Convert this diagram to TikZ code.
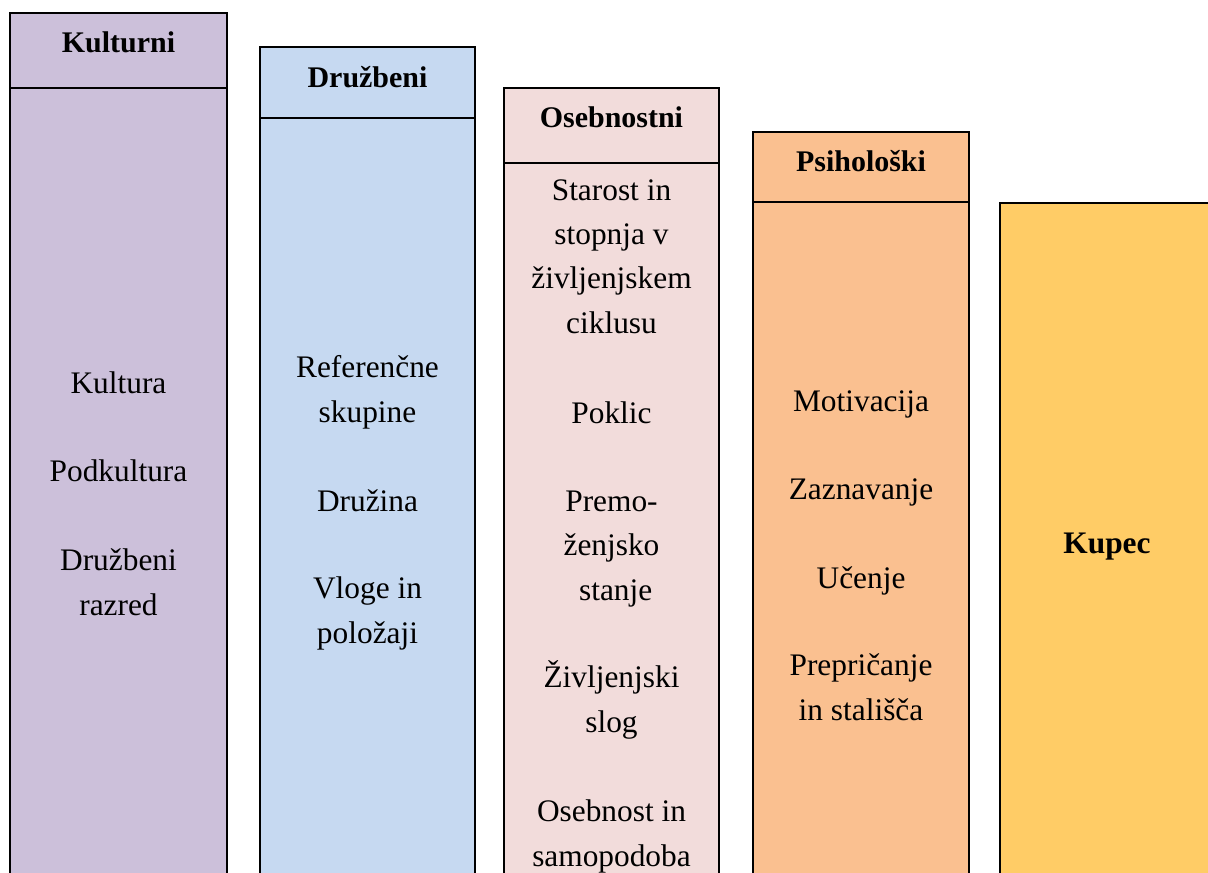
\documentclass[tikz,border=0pt]{standalone}
\usepackage{fontspec}
\setmainfont{Liberation Serif}
\definecolor{vijolicna}{HTML}{CCC0DA}
\definecolor{modra}{HTML}{C6D9F1}
\definecolor{roza}{HTML}{F2DCDB}
\definecolor{oranzna}{HTML}{FAC090}
\definecolor{rumena}{HTML}{FFCC66}
\tikzset{
	stolpec/.style={draw=black, line width=1.3pt},
	glava/.style={font=\fontsize{21.3}{26}\selectfont\bfseries, anchor=base, inner sep=0pt},
	besedilo/.style={font=\fontsize{22.3}{31.3}\selectfont, align=center, anchor=base, inner sep=0pt},
	kupec/.style={font=\fontsize{22.3}{26}\selectfont\bfseries, anchor=base, inner sep=0pt}
}
\begin{document}
\begin{tikzpicture}[x=0.025cm, y=-0.025cm]
		\useasboundingbox (0,0) rectangle (1208,873);
		\clip (0,0) rectangle (1208,873);
		
		\draw[stolpec][fill=vijolicna](10,13) rectangle (227,900);
		\draw[stolpec](10,88)--(227,88);
		\draw[stolpec][fill=modra](260,47) rectangle (475,900);
		\draw[stolpec](260,118)--(475,118);
		\draw[stolpec][fill=roza](504,88) rectangle (719,900);
		\draw[stolpec](504,163)--(719,163);
		\draw[stolpec][fill=oranzna](753,132) rectangle (969,900);
		\draw[stolpec](753,202)--(969,202);
		\draw[stolpec][fill=rumena](1000,203) rectangle (1260,900);
		
		% y of a text = baseline of its last line
		\node[glava] (kulturni) at (118.5,53){Kulturni};
		\node[besedilo] (kultura) at (118.5,393){Kultura};
		\node[besedilo] (podkultura) at (118.5,481){Podkultura};
		\node[besedilo] (razred) at (118.5,615){Družbeni\\razred};
		
		\node[glava] (druzbeni) at (367.5,88){Družbeni};
		\node[besedilo] (skupine) at (367.5,422){Referenčne\\skupine};
		\node[besedilo] (druzina) at (367.5,511){Družina};
		\node[besedilo] (vloge) at (367.5,643){Vloge in\\položaji};
		
		\node[glava] (osebnostni) at (611.5,128){Osebnostni};
		\node[besedilo] (starost) at (611.5,333){Starost in\\stopnja v\\življenjskem\\ciklusu};
		\node[besedilo] (poklic) at (611.5,423){Poklic};
		\node[besedilo] (stanje) at (611.5,600){Premo-\\ženjsko\\\hspace{6pt}stanje};
		\node[besedilo] (slog) at (611.5,732){Življenjski\\slog};
		\node[besedilo] (osebnost) at (611.5,866){Osebnost in\\samopodoba};
		
		\node[glava] (psiholoski) at (861,172){Psihološki};
		\node[besedilo] (motivacija) at (861,411){Motivacija};
		\node[besedilo] (zaznavanje) at (861,499){Zaznavanje};
		\node[besedilo] (ucenje) at (861,588){Učenje};
		\node[besedilo] (staliesca) at (861,720){Prepričanje\\in stališča};
		
		\node[kupec] (kupec) at (1107,553){Kupec};
		\end{tikzpicture}
\end{document}
